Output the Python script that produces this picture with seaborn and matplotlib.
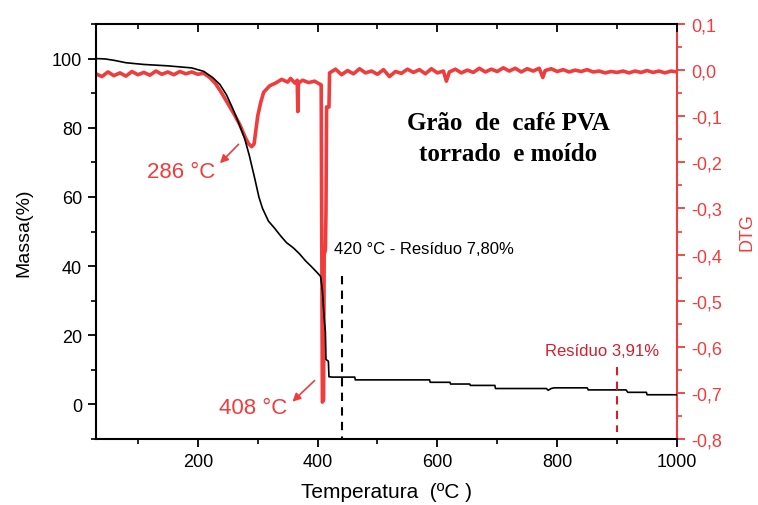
import matplotlib
matplotlib.use("Agg")
import matplotlib.pyplot as plt
import seaborn as sns
import pandas as pd

# ---------------- data ----------------
tga_temp = [30, 45, 60, 80, 110, 150, 190, 210, 225, 237, 248, 258, 268, 278, 286,
            295, 302, 308, 318, 328, 338, 348, 360, 370, 380, 390, 400, 405, 408,
            411, 413, 414, 418, 419, 425, 462, 463, 587, 588, 621, 622, 654, 655,
            696, 697, 782, 785, 790, 795, 850, 852, 915, 918, 949, 950, 1000]
tga_mass = [100.0, 99.9, 99.5, 98.8, 98.3, 97.9, 97.3, 96.3, 94.5, 92.5, 89.5, 85.7,
            81.5, 77.0, 72.0, 65.4, 60.0, 56.7, 53.0, 51.0, 48.8, 46.8, 45.2, 43.5,
            41.5, 39.8, 38.0, 37.0, 33.0, 25.0, 21.0, 13.0, 12.5, 8.0, 7.9, 7.9, 7.1,
            7.1, 6.4, 6.4, 5.9, 5.9, 5.5, 5.5, 4.6, 4.6, 4.1, 4.6, 4.8, 4.8, 4.2, 4.2,
            3.5, 3.5, 2.8, 2.8]

dtg_temp = [30, 40, 50, 60, 70, 80, 90, 100, 110, 120, 130, 140, 150, 160, 170, 180,
            190, 200, 210, 220, 230, 240, 250, 260, 270, 280, 285, 290, 294, 297, 300,
            305, 310, 320, 330, 340, 350, 355, 362, 366, 367, 368, 375, 385, 395, 403,
            406, 408, 410, 411, 413, 414, 415, 419, 420, 430, 440, 450, 460, 470, 480,
            490, 500, 510, 520, 530, 540, 550, 560, 570, 580, 590, 600, 610, 615, 620,
            630, 640, 650, 660, 670, 680, 690, 700, 710, 720, 730, 740, 750, 760, 770,
            776, 780, 790, 800, 810, 820, 830, 840, 850, 860, 870, 880, 890, 900, 910,
            920, 930, 940, 950, 960, 970, 980, 990, 1000]
dtg_val = [-0.008, -0.014, -0.004, -0.012, -0.006, -0.013, -0.003, -0.010, -0.005,
           -0.011, -0.002, -0.009, -0.004, -0.010, -0.003, -0.008, -0.004, -0.009,
           -0.007, -0.016, -0.030, -0.050, -0.072, -0.094, -0.118, -0.148, -0.160,
           -0.166, -0.160, -0.130, -0.100, -0.070, -0.048, -0.034, -0.028, -0.020,
           -0.026, -0.018, -0.028, -0.022, -0.090, -0.028, -0.022, -0.027, -0.024,
           -0.030, -0.032, -0.720, -0.715, -0.400, -0.390, -0.310, -0.080, -0.080,
           -0.006, 0.002, -0.010, -0.001, -0.008, 0.003, -0.006, -0.002, -0.009,
           0.001, -0.014, -0.003, -0.007, 0.002, -0.005, 0.001, -0.008, 0.003, -0.006,
           -0.002, -0.024, -0.004, 0.002, -0.006, 0.000, -0.005, 0.004, -0.004, 0.002,
           -0.003, 0.005, -0.002, 0.004, -0.004, 0.003, -0.002, 0.004, -0.016, -0.001,
           0.003, -0.003, 0.001, -0.004, 0.000, -0.003, 0.001, -0.004, -0.002, -0.006,
           -0.003, -0.005, -0.002, -0.006, -0.002, -0.005, -0.001, -0.005, -0.002,
           -0.006, -0.002, -0.004]

x_ticks = [200, 400, 600, 800, 1000]
mass_ticks = [0, 20, 40, 60, 80, 100]
dtg_ticks = [0.1, 0.0, -0.1, -0.2, -0.3, -0.4, -0.5, -0.6, -0.7, -0.8]
dtg_tick_labels = ["0,1", "0,0", "-0,1", "-0,2", "-0,3", "-0,4", "-0,5", "-0,6",
                   "-0,7", "-0,8"]

tga_df = pd.DataFrame({"temp": tga_temp, "mass": tga_mass})
dtg_df = pd.DataFrame({"temp": dtg_temp, "dtg": dtg_val})

# ---------------- style ----------------
sns.set_style("ticks")
plt.rcParams["font.family"] = ["Liberation Sans", "DejaVu Sans"]
plt.rcParams["text.color"] = "black"
plt.rcParams["axes.labelcolor"] = "black"
plt.rcParams["xtick.color"] = "black"
plt.rcParams["ytick.color"] = "black"

RED = "#f03c3c"
DARKRED = "#d0202c"

fig = plt.figure(figsize=(7.58, 5.06), dpi=100)
ax = fig.add_axes([0.1266, 0.1304, 0.7665, 0.8202])
ax2 = ax.twinx()

sns.lineplot(data=dtg_df, x="temp", y="dtg", ax=ax2, color=RED, lw=2.6,
             estimator=None, sort=False)
sns.lineplot(data=tga_df, x="temp", y="mass", ax=ax, color="black", lw=1.2,
             estimator=None, sort=False)

ax.set_zorder(ax2.get_zorder() + 1)
ax.patch.set_visible(False)

# limits
ax.set_xlim(30, 1000)
ax.set_ylim(-10, 110)
ax2.set_ylim(-0.8, 0.1)

# spines
for s in ["left", "bottom", "top"]:
    ax.spines[s].set_linewidth(1.5)
    ax.spines[s].set_color("black")
ax.spines["right"].set_visible(False)
for s in ["left", "bottom", "top"]:
    ax2.spines[s].set_visible(False)
ax2.spines["right"].set_color(RED)
ax2.spines["right"].set_linewidth(1.5)

# ticks
ax.set_xticks(x_ticks)
ax.set_xticks([100, 300, 500, 700, 900], minor=True)
ax.set_yticks(mass_ticks)
ax.set_yticks([-10, 10, 30, 50, 70, 90, 110], minor=True)
ax.tick_params(axis="both", which="major", direction="out", length=6, width=1.3,
               labelsize=13, pad=4, colors="black")
ax.tick_params(axis="both", which="minor", direction="out", length=3.5, width=1.2,
               colors="black")
ax.tick_params(axis="x", top=False)

top = ax.secondary_xaxis("top")
top.set_xticks(x_ticks)
top.set_xticks([100, 300, 500, 700, 900], minor=True)
top.tick_params(which="major", direction="in", length=6, width=1.3, labeltop=False)
top.tick_params(which="minor", direction="in", length=3.5, width=1.2)
top.spines["top"].set_visible(False)

ax2.set_yticks(dtg_ticks)
ax2.set_yticklabels(dtg_tick_labels)
ax2.set_yticks([0.05, -0.05, -0.15, -0.25, -0.35, -0.45, -0.55, -0.65, -0.75],
               minor=True)
ax2.tick_params(axis="y", which="major", direction="out", length=6, width=1.3,
                colors=RED, labelsize=13, pad=4)
ax2.tick_params(axis="y", which="minor", direction="out", length=3.5, width=1.2,
                colors=RED)

# labels
ax.set_xlabel("Temperatura  (ºC )", fontsize=15, labelpad=9, color="black")
ax.set_ylabel("Massa(%)", fontsize=14, labelpad=14, color="black")
ax2.set_ylabel("DTG", fontsize=13, color=RED, labelpad=12)

# reference lines
ax.plot([440, 440], [37, -10], color="black", lw=1.5, ls=(0, (4, 3)))
ax.plot([900, 900], [10.8, -8], color=DARKRED, lw=1.5, ls=(0, (4, 3)))

# annotations
ax.text(428, 45.1, "420 °C - Resíduo 7,80%", fontsize=12, color="black",
        ha="left", va="center")
ax.text(779, 15.5, "Resíduo 3,91%", fontsize=12, color=DARKRED,
        ha="left", va="center")
ax.text(718, 77, "Grão  de  café PVA\ntorrado  e moído", fontsize=18,
        family=["Liberation Serif", "DejaVu Serif"], fontweight="bold",
        ha="center", va="center", linespacing=1.45, color="black")

ax2.annotate("", xy=(237, -0.202), xytext=(268, -0.161),
             arrowprops=dict(arrowstyle="-|>", color=RED, lw=1.2,
                             mutation_scale=12, shrinkA=0, shrinkB=0))
ax2.text(172, -0.22, "286 °C", fontsize=16, color=RED, ha="center", va="center")

ax.annotate("", xy=(358, 0.8), xytext=(395, 6.9),
            arrowprops=dict(arrowstyle="-|>", color=RED, lw=1.2,
                            mutation_scale=12, shrinkA=0, shrinkB=0))
ax.text(292, -1.0, "408 °C", fontsize=16, color=RED, ha="center", va="center")

fig.savefig("out.png", dpi=100)
